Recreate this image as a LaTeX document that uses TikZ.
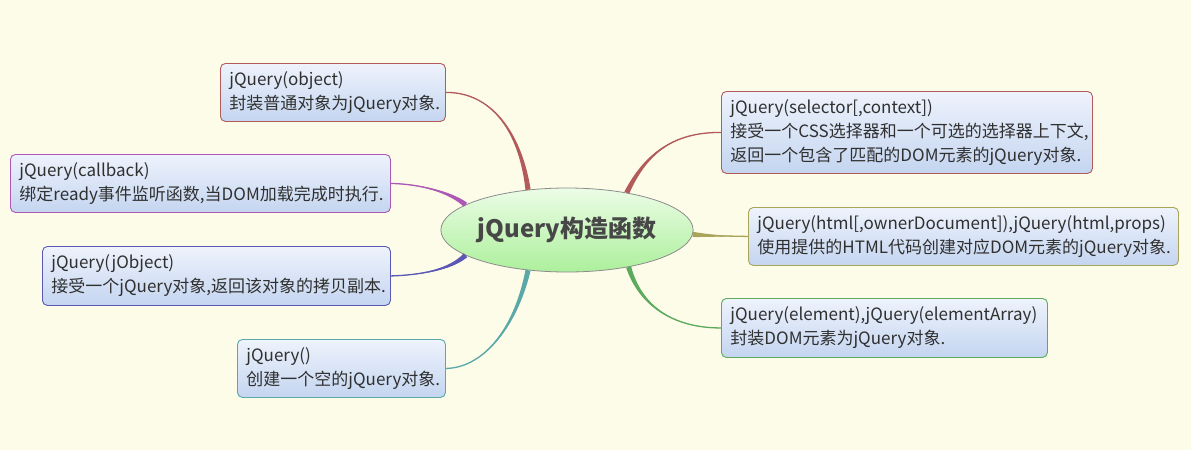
\documentclass[tikz,border=0pt]{standalone}
\usepackage{fontspec}
\setmainfont{Noto Sans CJK SC}
\usetikzlibrary{shapes.geometric,calc}
\definecolor{bg}{HTML}{FDFCE9}
\definecolor{cred}{HTML}{B35A5A}
\definecolor{cpur}{HTML}{AC58B4}
\definecolor{coli}{HTML}{A8A45A}
\definecolor{cblu}{HTML}{5A58B4}
\definecolor{cgrn}{HTML}{5CAA5C}
\definecolor{ctea}{HTML}{5AA8A8}
\definecolor{boxtop}{HTML}{EEF3FC}
\definecolor{boxbot}{HTML}{C4D5F0}
\definecolor{elltop}{HTML}{ECFCE6}
\definecolor{ellbot}{HTML}{ACF09C}
\definecolor{txt}{HTML}{303030}
\definecolor{ttl}{HTML}{474747}
\newcommand{\branch}[5]{%
  \fill[#1] ($(#2)!2.6pt!90:(#3)$) .. controls ($(#3)!1.2pt!90:(#4)$) and (#4) .. (#5)
     .. controls (#4) and ($(#3)!1.2pt!-90:(#4)$) .. ($(#2)!2.6pt!-90:(#3)$) -- cycle;
  \draw[#1, line width=1.3pt] (#2) .. controls (#3) and (#4) .. (#5);}
\begin{document}
\begin{tikzpicture}[x=1pt,y=-1pt,
  leaf/.style={rectangle, rounded corners=5pt, anchor=north west, align=left,
    top color=boxtop, bottom color=boxbot, line width=0.9pt, inner xsep=9pt, inner ysep=0pt,
    font=\fontsize{17}{24}\selectfont, text=txt},
  hub/.style={ellipse, draw=gray!90, line width=0.8pt, top color=elltop, bottom color=ellbot,
    minimum width=240pt, minimum height=84pt, inner sep=0pt,
    font=\fontsize{24}{28}\selectfont\bfseries, text=ttl}]
\fill[bg] (0,0) rectangle (1191,450);
\useasboundingbox (0,0) rectangle (1191,450);

\node[hub] (c) at (567,230) {jQuery构造函数};

\node[leaf, draw=cred, minimum width=225pt, text width=207pt, minimum height=58pt] (obj) at (220,63)
  {jQuery(object)\\封装普通对象为jQuery对象.};
\node[leaf, draw=cred, minimum width=371pt, text width=353pt, minimum height=82pt] (sel) at (721,91)
  {jQuery(selector[,context])\\接受一个CSS选择器和一个可选的选择器上下文,\\返回一个包含了匹配的DOM元素的jQuery对象.};
\node[leaf, draw=cpur, minimum width=380pt, text width=362pt, minimum height=58pt] (cb) at (10,154)
  {jQuery(callback)\\绑定ready事件监听函数,当DOM加载完成时执行.};
\node[leaf, draw=coli, minimum width=430pt, text width=412pt, minimum height=58pt] (html) at (748,207)
  {jQuery(html[,ownerDocument]),jQuery(html,props)\\使用提供的HTML代码创建对应DOM元素的jQuery对象.};
\node[leaf, draw=cblu, minimum width=348pt, text width=330pt, minimum height=59pt] (jo) at (42,246)
  {jQuery(jObject)\\接受一个jQuery对象,返回该对象的拷贝副本.};
\node[leaf, draw=cgrn, minimum width=326pt, text width=308pt, minimum height=59pt] (el) at (721,298)
  {jQuery(element),jQuery(elementArray)\\封装DOM元素为jQuery对象.};
\node[leaf, draw=ctea, minimum width=208pt, text width=190pt, minimum height=58pt] (em) at (237,339)
  {jQuery()\\创建一个空的jQuery对象.};

\coordinate (o1) at (520,130); \coordinate (o2) at (490,92);
\branch{cred}{c.134}{o1}{o2}{obj.east}
\coordinate (s1) at (645,155); \coordinate (s2) at (672,132);
\branch{cred}{c.32}{s1}{s2}{sel.west}
\coordinate (b1) at (450,192); \coordinate (b2) at (420,184);
\branch{cpur}{c.166}{b1}{b2}{cb.east}
\coordinate (h1) at (710,236); \coordinate (h2) at (728,236);
\branch{coli}{c.-2}{h1}{h2}{html.west}
\coordinate (j1) at (450,270); \coordinate (j2) at (420,275);
\branch{cblu}{c.194}{j1}{j2}{jo.east}
\coordinate (e1) at (640,305); \coordinate (e2) at (672,328);
\branch{cgrn}{c.-31}{e1}{e2}{el.west}
\coordinate (m1) at (515,330); \coordinate (m2) at (482,368);
\branch{ctea}{c.226}{m1}{m2}{em.east}
\end{tikzpicture}
\end{document}
